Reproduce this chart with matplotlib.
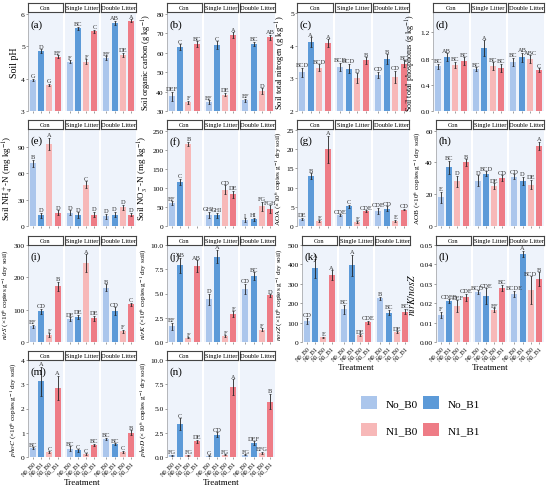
import numpy as np
import matplotlib
matplotlib.use("Agg")
import matplotlib.pyplot as plt
from matplotlib.patches import Patch

plt.rcParams['font.family'] = ['Liberation Serif', 'DejaVu Serif']
plt.rcParams['mathtext.fontset'] = 'stix'

# Tratamentos e facetas
facets = ['Con', 'Single Litter', 'Double Litter']
treatments = ['N0_B0', 'N0_B1', 'N1_B0', 'N1_B1']
legend_labels = ['No_B0', 'No_B1', 'N1_B0', 'N1_B1']
colors = ['#abc6ec', '#5c9ad8', '#f7b8b8', '#ee7c86']

# Valores (Con x4, Single x4, Double x4)
ph = [3.95, 4.85, 3.80, 4.67, 4.52, 5.55, 4.52, 5.45, 4.63, 5.72, 4.73, 5.78]
ph_err = [0.04, 0.06, 0.04, 0.04, 0.04, 0.05, 0.07, 0.06, 0.05, 0.06, 0.07, 0.05]
ph_let = ['G', 'D', 'G', 'EF', 'F', 'BC', 'F', 'C', 'EF', 'AB', 'DE', 'A']

soc = [37.5, 63.0, 34.5, 64.5, 34.5, 64.0, 38.5, 69.0, 35.5, 64.5, 40.3, 68.0]
soc_err = [2.5, 1.5, 0.8, 1.5, 1.0, 2.0, 1.0, 1.5, 0.8, 1.2, 1.5, 1.2]
soc_let = ['DEF', 'C', 'F', 'BC', 'EF', 'C', 'DE', 'A', 'EF', 'BC', 'D', 'AB']

stn = [3.18, 4.10, 3.33, 4.08, 3.35, 3.30, 3.00, 3.55, 3.10, 3.58, 3.05, 3.45]
stn_err = [0.15, 0.15, 0.10, 0.12, 0.12, 0.15, 0.15, 0.10, 0.10, 0.15, 0.18, 0.10]
stn_let = ['BCD', 'A', 'BCD', 'A', 'BCD', 'BCD', 'D', 'B', 'CD', 'B', 'CD', 'BC']

stp = [0.68, 0.82, 0.70, 0.76, 0.64, 0.96, 0.68, 0.66, 0.75, 0.82, 0.79, 0.62]
stp_err = [0.04, 0.06, 0.05, 0.06, 0.03, 0.12, 0.06, 0.06, 0.06, 0.07, 0.06, 0.03]
stp_let = ['BC', 'AB', 'BC', 'BC', 'BC', 'A', 'BC', 'BC', 'BC', 'AB', 'ABC', 'C']

nh4 = [71, 12, 93, 15, 15, 12.5, 47, 13, 11, 13, 21, 13]
nh4_err = [4, 3, 7, 3, 3, 3, 4, 3, 3, 3, 3, 2]
nh4_let = ['B', 'D', 'A', 'D', 'D', 'D', 'C', 'D', 'D', 'D', 'D', 'D']

no3 = [60, 116, 216, np.nan, 30, 28, 95, 83, 15, 18, 52, 45]
no3_err = [5, 8, 6, np.nan, 8, 7, 12, 10, 5, 4, 12, 10]
no3_let = ['EF', 'C', 'B', '', 'GHI', 'GHI', 'CD', 'DE', 'I', 'HI', 'FG', 'FGH']

aoa = [1.8, 13.0, 1.3, 20.0, 2.8, 5.1, 1.1, 3.9, 3.9, 4.5, 1.3, 4.3]
aoa_err = [0.3, 0.8, 0.2, 3.5, 0.3, 0.4, 0.2, 0.2, 0.8, 0.6, 0.3, 0.2]
aoa_let = ['DE', 'B', 'E', 'A', 'CDE', 'C', 'E', 'CDE', 'CDE', 'CD', 'E', 'CD']

aob = [18, 37, 28, 40, 28.5, 33, 25, 30, 31, 28.5, 26, 50.5]
aob_err = [3.5, 4, 3.5, 2, 3.5, 1.5, 2, 2, 1.5, 2.5, 3, 2.5]
aob_let = ['E', 'BC', 'D', 'B', 'D', 'BCD', 'DE', 'CD', 'CD', 'D', 'DE', 'A']

nirs = [48, 95, 22, 172, 70, 78, 243, 73, 168, 95, 33, 117]
nirs_err = [5, 8, 5, 15, 6, 7, 28, 8, 10, 12, 5, 5]
nirs_let = ['EF', 'CD', 'F', 'B', 'DE', 'DE', 'A', 'DE', 'B', 'CD', 'F', 'C']

nirk = [1.6, 7.9, 0.45, 7.85, 4.4, 8.8, 0.6, 2.85, 5.5, 6.8, 1.25, 4.8]
nirk_err = [0.4, 0.8, 0.05, 0.6, 0.6, 0.7, 0.1, 0.3, 0.5, 0.4, 0.15, 0.15]
nirk_let = ['EF', 'AB', 'F', 'AB', 'D', 'A', 'F', 'E', 'CD', 'BC', 'F', 'D']

nosz = [110, 380, 25, 345, 168, 395, 35, 102, 225, 152, 50, 157]
nosz_err = [15, 50, 3, 25, 25, 55, 4, 8, 8, 15, 5, 15]
nosz_let = ['CD', 'A', 'E', 'A', 'BC', 'A', 'DE', 'CDE', 'B', 'BC', 'DE', 'BC']

ratio = [0.014, 0.021, 0.0185, 0.023, 0.0258, 0.0238, 0.0165, 0.028, 0.0248, 0.0455, 0.0268, 0.0325]
ratio_err = [0.0015, 0.001, 0.003, 0.002, 0.001, 0.004, 0.001, 0.0015, 0.0015, 0.0015, 0.007, 0.0035]
ratio_let = ['F', 'CDEF', 'DEF', 'CDE', 'BCD', 'CDE', 'EF', 'BC', 'BCDE', 'A', 'BCD', 'B']

phoc = [0.38, 3.12, 0.20, 2.85, 0.35, 0.27, 0.12, 0.50, 0.76, 0.52, 0.20, 1.00]
phoc_err = [0.03, 0.6, 0.03, 0.5, 0.1, 0.05, 0.03, 0.04, 0.04, 0.04, 0.05, 0.1]
phoc_let = ['BC', 'A', 'C', 'A', 'BC', 'C', 'C', 'BC', 'BC', 'BC', 'C', 'B']

phod = [0.20, 3.4, 0.18, 1.6, 0.15, 2.3, 0.25, 7.2, 0.22, 1.45, 0.45, 5.7]
phod_err = [0.05, 0.6, 0.05, 0.2, 0.05, 0.25, 0.05, 0.8, 0.05, 0.2, 0.1, 0.8]
phod_let = ['FG', 'C', 'FG', 'DE', 'G', 'CD', 'FG', 'A', 'FG', 'DEF', 'EFG', 'B']

# Paineis: (rotulo, ylabel, tamanho, dados, erros, letras, ylim, yticks, fmt, pixels esq/dir, linha)
panels = [
    ('(a)', 'Soil pH', 7, ph, ph_err, ph_let, (3, 6.05), [3, 4, 5, 6], '%g', 28, 136, 0),
    ('(b)', 'Soil organic carbon (g kg$^{-1}$)', 6.0, soc, soc_err, soc_let, (30, 81), [30, 40, 50, 60, 70, 80], '%g', 167, 275, 0),
    ('(c)', 'Soil total nitrogen (g kg$^{-1}$)', 6.2, stn, stn_err, stn_let, (2, 5.03), [2, 3, 4, 5], '%g', 297, 409, 0),
    ('(d)', 'Soil total phosphorus (g kg$^{-1}$)', 5.8, stp, stp_err, stp_let, (0, 1.51), [0, 0.4, 0.8, 1.2], '%.1f', 433, 544, 0),
    ('(e)', 'Soil NH$_4^+$-N (mg kg$^{-1}$)', 6.4, nh4, nh4_err, nh4_let, (0, 110), [0, 30, 60, 90], '%g', 28, 136, 1),
    ('(f)', 'Soil NO$_3^-$-N (mg kg$^{-1}$)', 6.4, no3, no3_err, no3_let, (0, 255), [0, 50, 100, 150, 200, 250], '%g', 167, 275, 1),
    ('(g)', 'AOA (×10$^6$ copies g$^{-1}$ dry soil)', 5.2, aoa, aoa_err, aoa_let, (0, 25.3), [0, 5, 10, 15, 20, 25], '%g', 297, 409, 1),
    ('(h)', 'AOB (×10$^6$ copies g$^{-1}$ dry soil)', 5.2, aob, aob_err, aob_let, (0, 61), [0, 20, 40, 60], '%g', 436, 544, 1),
    ('(i)', '$\\it{nirS}$ (×10$^6$ copies g$^{-1}$ dry soil)', 5.2, nirs, nirs_err, nirs_let, (0, 300), [0, 100, 200, 300], '%g', 28, 136, 2),
    ('(j)', '$\\it{nirK}$ (×10$^6$ copies g$^{-1}$ dry soil)', 5.2, nirk, nirk_err, nirk_let, (0, 10), [0, 2.5, 5, 7.5, 10], '%.1f', 167, 275, 2),
    ('(k)', '$\\it{nosZ}$ (×10$^6$ copies g$^{-1}$ dry soil)', 5.2, nosz, nosz_err, nosz_let, (0, 500), [0, 100, 200, 300, 400, 500], '%g', 302, 410, 2),
    ('(l)', '$\\it{nirK/nosZ}$', 7, ratio, ratio_err, ratio_let, (0, 0.05), [0, 0.01, 0.02, 0.03, 0.04, 0.05], '%.2f', 436, 544, 2),
    ('(m)', '$\\it{phoC}$ (×10$^6$ copies g$^{-1}$ dry soil)', 5.2, phoc, phoc_err, phoc_let, (0, 4), [0, 1, 2, 3, 4], '%g', 28, 136, 3),
    ('(n)', '$\\it{phoD}$ (×10$^6$ copies g$^{-1}$ dry soil)', 5.2, phod, phod_err, phod_let, (0, 10), [0, 2.5, 5, 7.5, 10], '%.1f', 167, 275, 3),
]

# Linhas em pixels: (topo da faixa, topo do grafico, base do grafico)
rows = [(4, 13, 112), (121, 130, 227), (237, 246, 343), (352, 361, 458)]
with_xlabels = ['(k)', '(l)', '(m)', '(n)']

W, H = 550, 489
fig = plt.figure(figsize=(W / 100, H / 100), dpi=100)


def frac(x0, y0, x1, y1):
    return [x0 / W, 1 - y1 / H, (x1 - x0) / W, (y1 - y0) / H]


gap = 2
x = np.arange(4)
for tag, ylab, ysize, vals, errs, lets, ylim, yt, fmt, left, right, r in panels:
    s_top, p_top, p_bot = rows[r]
    fw = (right - left - 2 * gap) / 3
    for j in range(3):
        x0 = left + j * (fw + gap)
        ax = fig.add_axes(frac(x0, p_top, x0 + fw, p_bot))
        ax.set_facecolor('#eef3fb')
        v = np.array(vals[4 * j:4 * j + 4], dtype=float)
        e = np.array(errs[4 * j:4 * j + 4], dtype=float)
        ax.bar(x, v, width=0.72, color=colors, zorder=2)
        ax.errorbar(x, v, yerr=e, fmt='none', ecolor='#222222', elinewidth=0.6,
                    capsize=1.0, capthick=0.5, zorder=3)
        span = ylim[1] - ylim[0]
        for k in range(4):
            if np.isnan(v[k]):
                continue
            ax.text(x[k], v[k] + e[k] + 0.005 * span, lets[4 * j + k], ha='center',
                    va='bottom', fontsize=4.6, color='#333333', zorder=4)
        ax.set_xlim(-0.6, 3.6)
        ax.set_ylim(*ylim)
        for sp in ax.spines.values():
            sp.set_visible(False)
        ax.tick_params(axis='x', length=1.5, width=0.4, color='#555555', pad=1)
        ax.set_xticks(x)
        if tag in with_xlabels:
            ax.set_xticklabels(treatments, rotation=45, ha='right', fontsize=4.5,
                               rotation_mode='anchor')
            if j == 1:
                ax.set_xlabel('Treatment', fontsize=6.5, labelpad=1)
        else:
            ax.set_xticklabels([])
        ax.set_yticks(yt)
        if j == 0:
            ax.spines['left'].set_visible(True)
            ax.spines['left'].set_linewidth(0.4)
            ax.spines['left'].set_color('#888888')
            ax.set_yticklabels([fmt % t for t in yt], fontsize=5.4)
            ax.tick_params(axis='y', length=1.5, width=0.4, color='#555555', pad=0.8)
            ax.set_ylabel(ylab, fontsize=ysize, labelpad=1.5)
            ax.text(0.06, 0.93, tag, transform=ax.transAxes, fontsize=8,
                    ha='left', va='top', zorder=5)
        else:
            ax.tick_params(axis='y', length=0, labelleft=False)
        # faixa da faceta
        st = fig.add_axes(frac(x0, s_top, x0 + fw, p_top - 0.5))
        st.set_facecolor('white')
        st.set_xticks([])
        st.set_yticks([])
        for sp in st.spines.values():
            sp.set_linewidth(0.8)
            sp.set_color('#444444')
        st.text(0.5, 0.5, facets[j], ha='center', va='center', fontsize=4.6,
                transform=st.transAxes)

# Legenda
handles = [Patch(facecolor=c, edgecolor='none') for c in colors]
order = [0, 2, 1, 3]
fig.legend([handles[i] for i in order], [legend_labels[i] for i in order],
           ncol=2, loc='center', bbox_to_anchor=(0.765, 0.147), frameon=False,
           fontsize=8, handlelength=1.4, handleheight=1.4, labelspacing=1.25,
           columnspacing=0.5, handletextpad=0.8)

fig.savefig('out.png', dpi=100)
